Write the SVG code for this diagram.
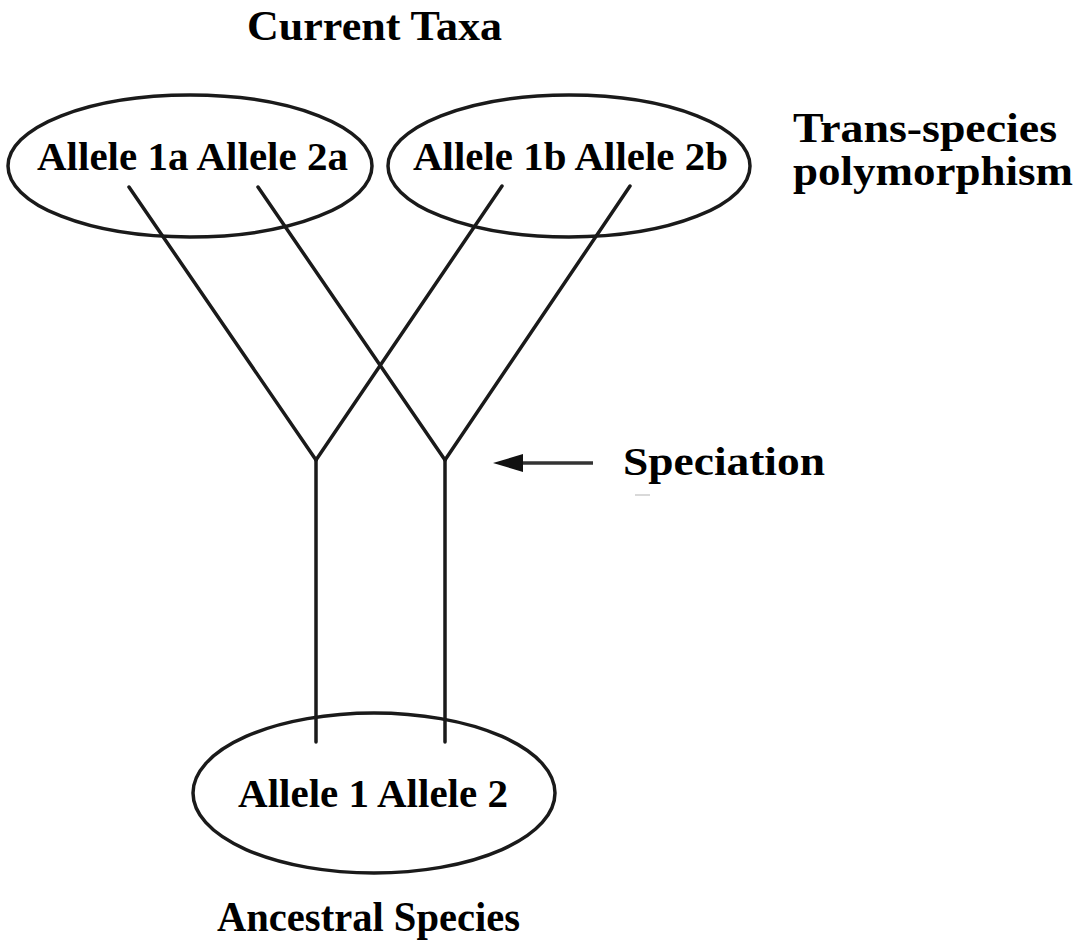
<svg xmlns="http://www.w3.org/2000/svg" width="1085" height="944" viewBox="0 0 1085 944">
<defs>
<style>
.t{font-family:"Liberation Serif","Times New Roman",serif;font-weight:bold;font-size:39px;fill:#000}
.h{font-size:43px}
.e{fill:none;stroke:#1a1a1a;stroke-width:3.5}
.c{fill:none;stroke:#1a1a1a;stroke-width:3.5;stroke-linecap:round}
</style>
</defs>
<rect width="1085" height="944" fill="#fff"/>
<text class="t h" x="247" y="40" textLength="255" lengthAdjust="spacingAndGlyphs">Current Taxa</text>
<g id="trans-species-label">
<text class="t h" x="793" y="142" textLength="264" lengthAdjust="spacingAndGlyphs">Trans-species</text>
<text class="t h" x="793" y="185" textLength="280" lengthAdjust="spacingAndGlyphs">polymorphism</text>
</g>
<g id="connectors">
<line class="c" x1="129" y1="187" x2="316" y2="460"/>
<line class="c" x1="258" y1="187" x2="445" y2="460"/>
<line class="c" x1="502" y1="186" x2="316" y2="460"/>
<line class="c" x1="630" y1="186" x2="445" y2="460"/>
<line class="c" x1="316" y1="460" x2="316" y2="742"/>
<line class="c" x1="445" y1="460" x2="445" y2="742"/>
<line x1="593" y1="463" x2="520" y2="463" stroke="#333" stroke-width="3.5"/>
<path d="M523,454 L493,463 L523,472 Z" fill="#111"/>
<line x1="635" y1="495" x2="650" y2="495" stroke="#ccc" stroke-width="1.5"/>
</g>
<g id="taxon-a">
<ellipse class="e" cx="190" cy="166" rx="182" ry="71"/>
<text class="t" x="37" y="170" textLength="311" lengthAdjust="spacingAndGlyphs">Allele 1a  Allele 2a</text>
</g>
<g id="taxon-b">
<ellipse class="e" cx="569" cy="166" rx="181" ry="71"/>
<text class="t" x="413" y="170" textLength="315" lengthAdjust="spacingAndGlyphs">Allele 1b  Allele 2b</text>
</g>
<g id="speciation">
<text class="t" x="623" y="475" font-size="42" textLength="202" lengthAdjust="spacingAndGlyphs">Speciation</text>
</g>
<g id="ancestral">
<ellipse class="e" cx="374" cy="793" rx="181" ry="80"/>
<text class="t" x="238" y="807" textLength="270" lengthAdjust="spacingAndGlyphs">Allele 1  Allele 2</text>
</g>
<text class="t h" x="217" y="931" textLength="303" lengthAdjust="spacingAndGlyphs">Ancestral Species</text>
</svg>
